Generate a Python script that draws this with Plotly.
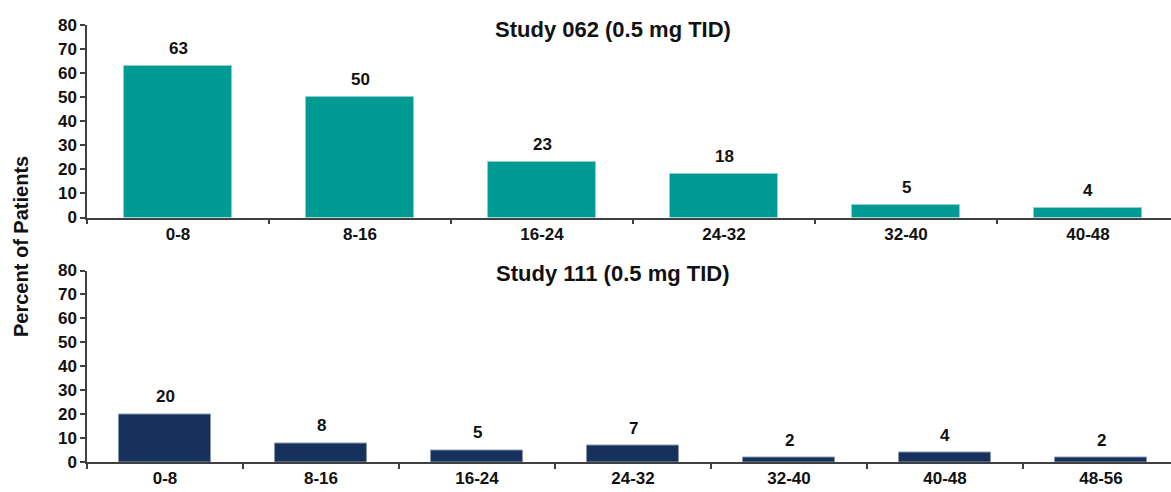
import plotly.graph_objects as go

# Weeks-to-event bins and percent of patients per bin
bins_062 = ["0-8", "8-16", "16-24", "24-32", "32-40", "40-48"]
pct_062 = [63, 50, 23, 18, 5, 4]

bins_111 = ["0-8", "8-16", "16-24", "24-32", "32-40", "40-48", "48-56"]
pct_111 = [20, 8, 5, 7, 2, 4, 2]

title_062 = "Study 062 (0.5 mg TID)"
title_111 = "Study 111 (0.5 mg TID)"
y_title = "Percent of Patients"

TEAL = "#009a95"
NAVY = "#16325c"
AXIS = "#404040"
INK = "#111111"
FONT = "Arial, Liberation Sans, sans-serif"

W, H = 1171, 492
left = 87 / W

fig = go.Figure()
fig.add_trace(go.Bar(
    x=bins_062, y=pct_062, xaxis="x", yaxis="y",
    marker=dict(color=TEAL, line=dict(color="#8fcfcc", width=1)),
    width=0.593,
))
fig.add_trace(go.Bar(
    x=bins_111, y=pct_111, xaxis="x2", yaxis="y2",
    marker=dict(color=NAVY, line=dict(color="#8a98ad", width=1)),
    width=0.59,
))

common_x = dict(
    type="category", showline=True, linecolor=AXIS, linewidth=1.5,
    ticks="outside", tickson="boundaries", ticklen=5, tickcolor=AXIS,
    tickwidth=1.5, showgrid=False, zeroline=False,
    tickfont=dict(family=FONT, size=17, color=INK),
    tickprefix="<b>", ticksuffix="</b>",
)
common_y = dict(
    range=[0, 80], dtick=10, showline=True, linecolor=AXIS, linewidth=1.5,
    ticks="outside", ticklen=5, tickcolor=AXIS, tickwidth=1.5,
    showgrid=False, zeroline=False,
    tickfont=dict(family=FONT, size=17, color=INK),
    tickprefix="<b>", ticksuffix="</b>",
)

annotations = [
    dict(text="<b>" + title_062 + "</b>", x=613 / W, y=1 - 29 / H,
         xref="paper", yref="paper", showarrow=False,
         xanchor="center", yanchor="middle",
         font=dict(family=FONT, size=22, color=INK)),
    dict(text="<b>" + title_111 + "</b>", x=613 / W, y=1 - 273 / H,
         xref="paper", yref="paper", showarrow=False,
         xanchor="center", yanchor="middle",
         font=dict(family=FONT, size=22, color=INK)),
    dict(text="<b>" + y_title + "</b>", x=21 / W, y=1 - 247 / H,
         xref="paper", yref="paper", showarrow=False, textangle=-90,
         xanchor="center", yanchor="middle",
         font=dict(family=FONT, size=20, color=INK)),
]

# value labels above each bar
for xa, ya, cats, vals in (("x", "y", bins_062, pct_062),
                           ("x2", "y2", bins_111, pct_111)):
    for c, v in zip(cats, vals):
        annotations.append(dict(
            text="<b>%d</b>" % v, x=c, y=v, xref=xa, yref=ya,
            showarrow=False, xanchor="center", yanchor="bottom", yshift=6,
            font=dict(family=FONT, size=17, color=INK),
        ))

fig.update_layout(
    width=W, height=H,
    margin=dict(l=0, r=0, t=0, b=0, autoexpand=False),
    paper_bgcolor="white", plot_bgcolor="white",
    showlegend=False, bargap=0,
    font=dict(family=FONT, color=INK),
    xaxis=dict(common_x, domain=[left, 1], anchor="y",
               range=[-0.5, -0.5 + (W - 87) / 182]),
    yaxis=dict(common_y, domain=[1 - 217.5 / H, 1 - 25 / H], anchor="x"),
    xaxis2=dict(common_x, domain=[left, 1], anchor="y2",
                range=[-0.5, -0.5 + (W - 87) / 156]),
    yaxis2=dict(common_y, domain=[1 - 462.3 / H, 1 - 270.5 / H], anchor="x2"),
    annotations=annotations,
)

fig.write_html("out.html")
